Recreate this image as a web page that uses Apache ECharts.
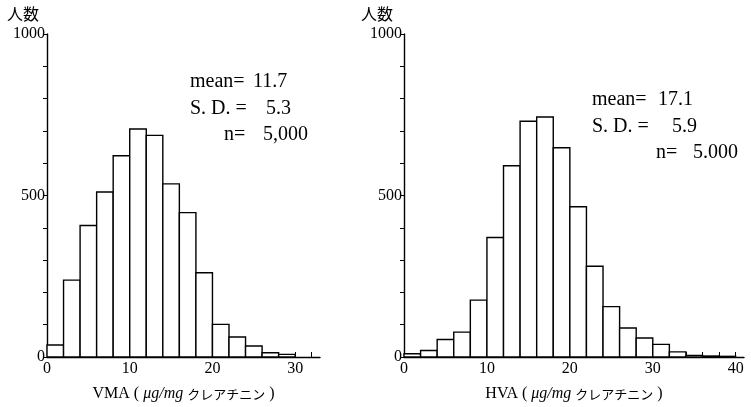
<!DOCTYPE html>
<html>
<head>
<meta charset="utf-8">
<script src="https://cdn.jsdelivr.net/npm/echarts@6/dist/echarts.min.js"></script>
<style>html,body{margin:0;padding:0;background:#fff;}#c{width:751px;height:407px;}</style>
</head>
<body>
<div id="c"></div>
<script>
// ---- data ----
var binWidth = 2;
var vmaStarts = [0,2,4,6,8,10,12,14,16,18,20,22,24,26,28];
var vmaCounts = [37,238,407,511,623,706,686,536,447,261,101,62,34,13,8];
var hvaStarts = [0,2,4,6,8,10,12,14,16,18,20,22,24,26,28,30,32,34,36,38];
var hvaCounts = [10,20,54,77,176,370,592,730,743,648,465,281,156,90,59,39,16,5,3,2];
var yTicks = [0,100,200,300,400,500,600,700,800,900,1000];
var yLabels = [0,500,1000];
var vmaXTicks = [0,2,4,6,8,10,12,14,16,18,20,22,24,26,28,30,32];
var hvaXTicks = [0,2,4,6,8,10,12,14,16,18,20,22,24,26,28,30,32,34,36,38,40];
var xLabelsVma = [0,10,20,30];
var xLabelsHva = [0,10,20,30,40];
var statsVma = [['mean=', '11.7'], ['S. D. =', '5.3'], ['n=', '5,000']];
var statsHva = [['mean=', '17.1'], ['S. D. =', '5.9'], ['n=', '5.000']];
var yName = '人数';

var serif = '"Liberation Serif","Noto Sans CJK JP",serif';
function toData(starts, counts){ return starts.map(function(s,i){ return [s, s+binWidth, counts[i]]; }); }

function renderItem(params, api){
  var p0 = api.coord([api.value(0), api.value(2)]);
  var p1 = api.coord([api.value(1), 0]);
  return {type:'rect', shape:{x:p0[0], y:p0[1], width:p1[0]-p0[0], height:p1[1]-p0[1]},
    style:{fill:'#fff', stroke:'#000', lineWidth:1.4}};
}

function xAxis(idx, max, ticks, labels, name){
  return {type:'value', gridIndex:idx, min:0, max:max,
    axisLine:{lineStyle:{color:'#000', width:1.4}},
    axisTick:{inside:true, length:5, customValues:ticks, lineStyle:{color:'#000'}},
    axisLabel:{customValues:labels, color:'#000', fontFamily:serif, fontSize:16, margin:4},
    splitLine:{show:false},
    name:name, nameLocation:'middle', nameGap:29,
    nameTextStyle:{color:'#000', fontFamily:serif, fontSize:16,
      rich:{i:{fontStyle:'italic', fontFamily:serif, fontSize:16, color:'#000'},
            k:{fontFamily:'"Noto Sans CJK JP"', fontSize:13, color:'#000'}}}
  };
}
function yAxis(idx, padRight){
  return {type:'value', gridIndex:idx, min:0, max:1000,
    axisLine:{show:true, lineStyle:{color:'#000', width:1.4}},
    axisTick:{show:true, length:4, customValues:yTicks, lineStyle:{color:'#000'}},
    axisLabel:{customValues:yLabels, color:'#000', fontFamily:serif, fontSize:16, margin:2,
      formatter:function(v){ return String(v); }},
    splitLine:{show:false},
    name:yName, nameLocation:'end', nameGap:12,
    nameTextStyle:{color:'#000', fontFamily:'"Noto Sans CJK JP"', fontSize:16, align:'right', padding:[0,padRight,0,0]}
  };
}

function statTexts(stats, pos){
  var out = [];
  stats.forEach(function(s, i){
    out.push({type:'text', left:pos[i][0], top:pos[i][2], style:{text:s[0], font:'20px '+serif, fill:'#000'}});
    out.push({type:'text', left:pos[i][1], top:pos[i][2], style:{text:s[1], font:'20px '+serif, fill:'#000'}});
  });
  return out;
}

var option = {
  backgroundColor:'#fff',
  animation:false,
  grid:[{left:47, top:34, width:273, height:328},{left:404, top:34, width:340, height:328}],
  xAxis:[xAxis(0, 33, vmaXTicks, xLabelsVma, 'VMA ( {i|μg/mg} {k|クレアチニン} )'),
         xAxis(1, 41, hvaXTicks, xLabelsHva, 'HVA ( {i|μg/mg} {k|クレアチニン} )')],
  yAxis:[yAxis(0, 8), yAxis(1, 11)],
  series:[
    {type:'custom', xAxisIndex:0, yAxisIndex:0, renderItem:renderItem, data:toData(vmaStarts, vmaCounts)},
    {type:'custom', xAxisIndex:1, yAxisIndex:1, renderItem:renderItem, data:toData(hvaStarts, hvaCounts)}
  ],
  graphic: statTexts(statsVma, [[190,253,72],[190,266,99],[224,263,125]])
    .concat(statTexts(statsHva, [[592,658,90],[592,672,117],[656,693,143]]))
};
echarts.init(document.getElementById('c')).setOption(option);
</script>
</body>
</html>
